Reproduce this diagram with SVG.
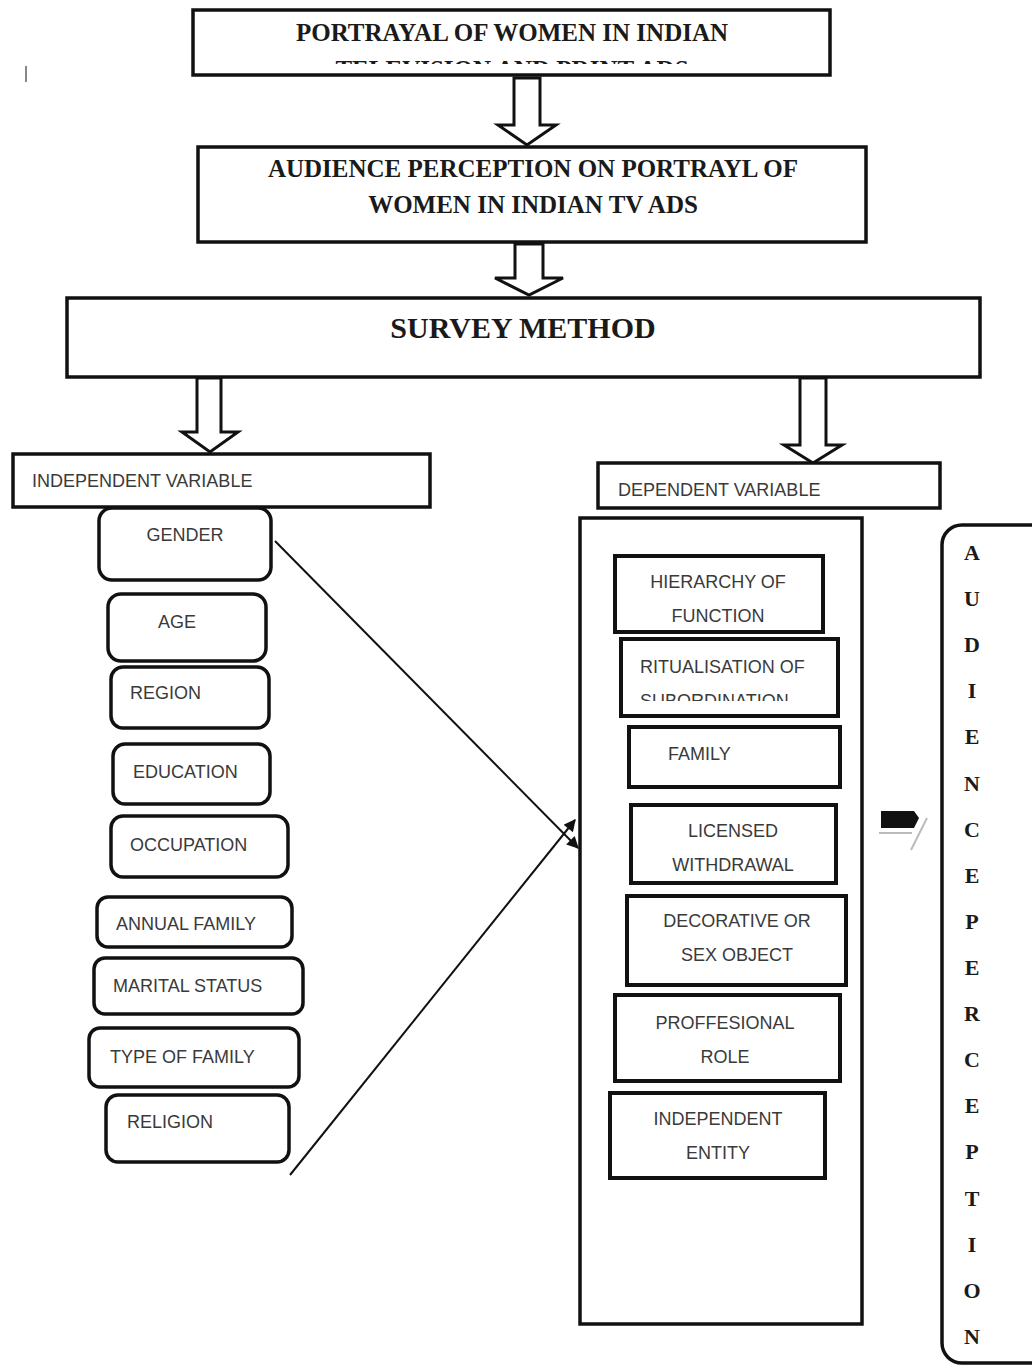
<svg xmlns="http://www.w3.org/2000/svg" width="1032" height="1366" viewBox="0 0 1032 1366">
<style>
.box{fill:#fff;stroke:#111;stroke-width:3.5}
.rbox{fill:#fff;stroke:#111;stroke-width:4}
.ser{font-family:"Liberation Serif","Times New Roman",serif;font-weight:bold;fill:#1a1a1a}
.sans{font-family:"Liberation Sans",Arial,sans-serif;font-size:18px;fill:#3a3a3a}
.blk{fill:#fff;stroke:#111;stroke-width:3;stroke-linejoin:miter}
.ln{stroke:#111;stroke-width:2;fill:none}
.mid{text-anchor:middle}
</style>
<defs>
<marker id="ah" viewBox="0 0 10 10" refX="9" refY="5" markerWidth="14" markerHeight="12" orient="auto" markerUnits="userSpaceOnUse">
<path d="M0,0 L10,5 L0,10 Z" fill="#111"/>
</marker>
<clipPath id="c1"><rect x="195" y="12" width="633" height="52"/></clipPath>
<clipPath id="c2"><rect x="623" y="641" width="213" height="60"/></clipPath>
</defs>
<rect width="1032" height="1366" fill="#fff"/>
<line x1="26" y1="66" x2="26" y2="82" stroke="#888" stroke-width="2"/>

<g id="connectors">
<polygon class="blk" points="514,78 540,78 540,125 556,125 527,145 498,125 514,125"/>
<polygon class="blk" points="515,244 543,244 543,278 563,278 529,295 495,278 515,278"/>
<polygon class="blk" points="197,378 221,378 221,432 238,432 210,452 182,432 197,432"/>
<polygon class="blk" points="800,378 826,378 826,445 842,445 813,463 784,445 800,445"/>
<line class="ln" x1="275" y1="541" x2="578" y2="848" marker-end="url(#ah)"/>
<line class="ln" x1="290" y1="1175" x2="575" y2="820" marker-end="url(#ah)"/>
<path d="M881,811 L914,811 L919,818 L914,828 L881,828 Z" fill="#111"/>
<line x1="879" y1="833" x2="912" y2="833" stroke="#bbb" stroke-width="2"/>
<line x1="927" y1="818" x2="911" y2="850" stroke="#bbb" stroke-width="2"/>
</g>

<g id="n-portrayal">
<rect class="box" x="193" y="10" width="637" height="65"/>
<text class="ser mid" x="512" y="41" font-size="25">PORTRAYAL OF WOMEN IN INDIAN</text>
<text class="ser mid" x="512" y="78" font-size="25" clip-path="url(#c1)">TELEVISION AND PRINT ADS</text>
</g>
<g id="n-audience">
<rect class="box" x="198" y="147" width="668" height="95"/>
<text class="ser mid" x="533" y="177" font-size="25">AUDIENCE PERCEPTION ON PORTRAYL OF</text>
<text class="ser mid" x="533" y="213" font-size="25">WOMEN IN INDIAN TV ADS</text>
</g>
<g id="n-survey">
<rect class="box" x="67" y="298" width="913" height="79"/>
<text class="ser mid" x="523" y="338" font-size="30">SURVEY METHOD</text>
</g>
<g id="n-indep">
<rect class="box" x="13" y="454" width="417" height="53"/>
<text class="sans" x="32" y="487" font-size="17">INDEPENDENT VARIABLE</text>
</g>
<g id="n-dep">
<rect class="box" x="598" y="463" width="342" height="45"/>
<text class="sans" x="618" y="496" font-size="17">DEPENDENT VARIABLE</text>
</g>
<g id="n-depcontainer">
<rect class="box" x="580" y="518" width="282" height="806"/>
</g>

<g id="n-gender"><rect class="box" x="99" y="508" width="172" height="72" rx="13"/><text class="sans mid" x="185" y="541">GENDER</text></g>
<g id="n-age"><rect class="box" x="108" y="594" width="158" height="67" rx="13"/><text class="sans mid" x="177" y="628">AGE</text></g>
<g id="n-region"><rect class="box" x="111" y="667" width="158" height="61" rx="12"/><text class="sans" x="130" y="699">REGION</text></g>
<g id="n-education"><rect class="box" x="113" y="744" width="157" height="60" rx="12"/><text class="sans" x="133" y="778">EDUCATION</text></g>
<g id="n-occupation"><rect class="box" x="111" y="816" width="177" height="61" rx="12"/><text class="sans" x="130" y="851">OCCUPATION</text></g>
<g id="n-annual"><rect class="box" x="97" y="897" width="195" height="50" rx="11"/><text class="sans" x="116" y="930">ANNUAL FAMILY</text></g>
<g id="n-marital"><rect class="box" x="94" y="958" width="209" height="56" rx="11"/><text class="sans" x="113" y="992">MARITAL STATUS</text></g>
<g id="n-type"><rect class="box" x="89" y="1028" width="210" height="59" rx="11"/><text class="sans" x="110" y="1063">TYPE OF FAMILY</text></g>
<g id="n-religion"><rect class="box" x="106" y="1095" width="183" height="67" rx="12"/><text class="sans" x="127" y="1128">RELIGION</text></g>

<g id="n-hierarchy"><rect class="rbox" x="615" y="556" width="208" height="76"/><text class="sans mid" x="718" y="588">HIERARCHY OF</text><text class="sans mid" x="718" y="622">FUNCTION</text></g>
<g id="n-ritual"><rect class="rbox" x="621" y="639" width="217" height="77"/><text class="sans" x="640" y="673">RITUALISATION OF</text><text class="sans" x="640" y="707" clip-path="url(#c2)">SUBORDINATION</text></g>
<g id="n-family"><rect class="rbox" x="629" y="727" width="211" height="60"/><text class="sans" x="668" y="760">FAMILY</text></g>
<g id="n-licensed"><rect class="rbox" x="631" y="805" width="205" height="78"/><text class="sans mid" x="733" y="837">LICENSED</text><text class="sans mid" x="733" y="871">WITHDRAWAL</text></g>
<g id="n-decorative"><rect class="rbox" x="627" y="896" width="219" height="89"/><text class="sans mid" x="737" y="927">DECORATIVE OR</text><text class="sans mid" x="737" y="961">SEX OBJECT</text></g>
<g id="n-professional"><rect class="rbox" x="615" y="995" width="225" height="86"/><text class="sans mid" x="725" y="1029">PROFFESIONAL</text><text class="sans mid" x="725" y="1063">ROLE</text></g>
<g id="n-independent"><rect class="rbox" x="610" y="1093" width="215" height="85"/><text class="sans mid" x="718" y="1125">INDEPENDENT</text><text class="sans mid" x="718" y="1159">ENTITY</text></g>

<g id="n-audperception">
<rect class="box" x="942" y="525" width="110" height="838" rx="20"/>
<g class="ser mid" font-size="22">
<text x="972" y="560">A</text>
<text x="972" y="606">U</text>
<text x="972" y="652">D</text>
<text x="972" y="698">I</text>
<text x="972" y="744">E</text>
<text x="972" y="791">N</text>
<text x="972" y="837">C</text>
<text x="972" y="883">E</text>
<text x="972" y="929">P</text>
<text x="972" y="975">E</text>
<text x="972" y="1021">R</text>
<text x="972" y="1067">C</text>
<text x="972" y="1113">E</text>
<text x="972" y="1159">P</text>
<text x="972" y="1206">T</text>
<text x="972" y="1252">I</text>
<text x="972" y="1298">O</text>
<text x="972" y="1344">N</text>
</g>
</g>
</svg>
